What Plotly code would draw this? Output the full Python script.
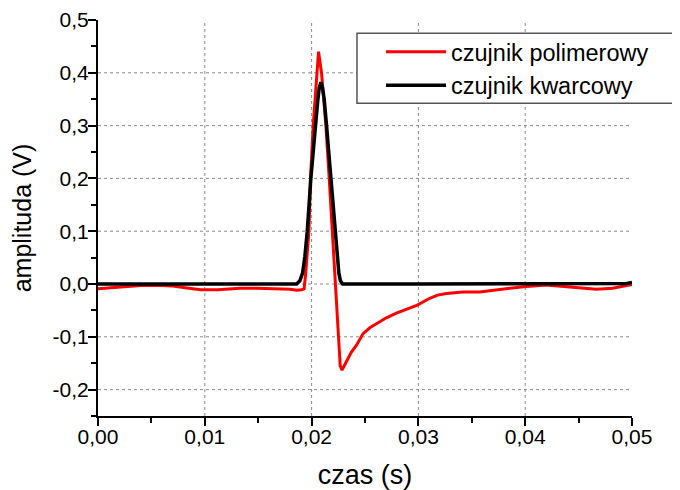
import plotly.graph_objects as go

# --- data ---
t_poly = [0.0000, 0.0024, 0.0040, 0.0060, 0.0070, 0.0085, 0.0096, 0.0112, 0.0133, 0.0149,
          0.0164, 0.0180, 0.0186, 0.0191, 0.0193, 0.01945, 0.01975, 0.0199, 0.02015,
          0.02047, 0.02065, 0.02093, 0.02134, 0.02165, 0.02196, 0.02227, 0.0225,
          0.02268, 0.02285, 0.0230, 0.02327, 0.0237, 0.0242, 0.02482, 0.02545, 0.02638, 0.0270,
          0.02794, 0.0290, 0.0299, 0.03106, 0.0318, 0.03262, 0.03417, 0.03573, 0.03729,
          0.03884, 0.03984, 0.04196, 0.04351, 0.04507, 0.04664, 0.04819, 0.04975, 0.0500]
v_poly = [-0.009, -0.005, -0.003, -0.003, -0.004, -0.008, -0.011, -0.011, -0.008, -0.008,
          -0.009, -0.010, -0.012, -0.011, -0.009, 0.021, 0.100, 0.200, 0.300,
          0.400, 0.440, 0.400, 0.300, 0.200, 0.100, 0.000, -0.085,
          -0.155, -0.163, -0.157, -0.145, -0.130, -0.116, -0.094, -0.083, -0.071, -0.064,
          -0.055, -0.047, -0.040, -0.027, -0.021, -0.018, -0.015, -0.015, -0.011,
          -0.008, -0.005, -0.002, -0.005, -0.007, -0.010, -0.008, -0.002, -0.001]

t_quartz = [0.0000, 0.0050, 0.0100, 0.0150, 0.01860, 0.01890, 0.01916, 0.01937, 0.01959,
            0.01993, 0.02034, 0.02059, 0.02072, 0.02087, 0.02102, 0.02118, 0.0214, 0.0218,
            0.02218, 0.02255, 0.0227, 0.0229, 0.0300, 0.0400, 0.0450, 0.0495, 0.0500]
v_quartz = [0.000, 0.000, 0.000, 0.000, 0.000, 0.006, 0.021, 0.052, 0.099,
            0.200, 0.300, 0.350, 0.372, 0.382, 0.372, 0.350, 0.300, 0.200,
            0.099, 0.021, 0.006, 0.000, 0.000, 0.000, 0.000, 0.001, 0.003]

x_ticks = [0.00, 0.01, 0.02, 0.03, 0.04, 0.05]
x_labels = ["0,00", "0,01", "0,02", "0,03", "0,04", "0,05"]
y_ticks = [-0.2, -0.1, 0.0, 0.1, 0.2, 0.3, 0.4, 0.5]
y_labels = ["-0,2", "-0,1", "0,0", "0,1", "0,2", "0,3", "0,4", "0,5"]

names = ["czujnik polimerowy", "czujnik kwarcowy"]

X_RANGE = [0, 0.05]
Y_RANGE = [-0.25, 0.5]

FONT = "Arial, 'Liberation Sans', sans-serif"

fig = go.Figure()
fig.add_trace(go.Scatter(x=t_poly, y=v_poly, mode="lines", name=names[0],
                         line=dict(color="#ff0000", width=3)))
fig.add_trace(go.Scatter(x=t_quartz, y=v_quartz, mode="lines", name=names[1],
                         line=dict(color="#000000", width=3.5)))

# dotted grid lines at interior major ticks only
grid_style = dict(color="#8a8a8a", width=1, dash="dot")
for xv in x_ticks:
    if X_RANGE[0] < xv < X_RANGE[1]:
        fig.add_shape(type="line", xref="x", yref="y", x0=xv, x1=xv,
                      y0=Y_RANGE[0], y1=Y_RANGE[1], line=grid_style, layer="below")
for yv in y_ticks:
    if Y_RANGE[0] < yv < Y_RANGE[1]:
        fig.add_shape(type="line", xref="x", yref="y", x0=X_RANGE[0], x1=X_RANGE[1],
                      y0=yv, y1=yv, line=grid_style, layer="below")

# legend frame (opaque white box, running off the right edge)
fig.add_shape(type="rect", xref="paper", yref="paper", x0=0.485, x1=1.3,
              y0=0.7897, y1=0.9664, line=dict(color="#555555", width=1.5),
              fillcolor="white", layer="above")

axis_common = dict(
    showline=True, linecolor="black", linewidth=2,
    ticks="outside", ticklen=8, tickwidth=2, tickcolor="black",
    showgrid=False, zeroline=False,
    tickfont=dict(family=FONT, size=21, color="black"),
)

fig.update_xaxes(
    range=X_RANGE, tickmode="array", tickvals=x_ticks, ticktext=x_labels,
    minor=dict(tickmode="linear", tick0=0, dtick=0.005, ticks="outside", ticklen=5,
               tickwidth=2, tickcolor="black", showgrid=False),
    ticklabelstandoff=-7,
    title=dict(text="czas (s)", font=dict(family=FONT, size=27, color="black"), standoff=21),
    **axis_common,
)
fig.update_yaxes(
    range=Y_RANGE, tickmode="array", tickvals=y_ticks, ticktext=y_labels,
    minor=dict(tickmode="linear", tick0=0, dtick=0.05, ticks="outside", ticklen=5,
               tickwidth=2, tickcolor="black", showgrid=False),
    ticklabelstandoff=-5,
    title=dict(text="amplituda (V)", font=dict(family=FONT, size=25, color="black"), standoff=19),
    **axis_common,
)

fig.update_layout(
    width=672, height=482,
    margin=dict(l=90, r=48, t=12, b=74, autoexpand=False),
    paper_bgcolor="white", plot_bgcolor="white",
    font=dict(family=FONT, color="black"),
    legend=dict(x=0.530, y=0.975, xanchor="left", yanchor="top",
                bgcolor="rgba(0,0,0,0)", borderwidth=0,
                font=dict(family=FONT, size=23.5, color="black"),
                itemwidth=60, tracegroupgap=0),
    showlegend=True,
)

fig.write_html("out.html")
